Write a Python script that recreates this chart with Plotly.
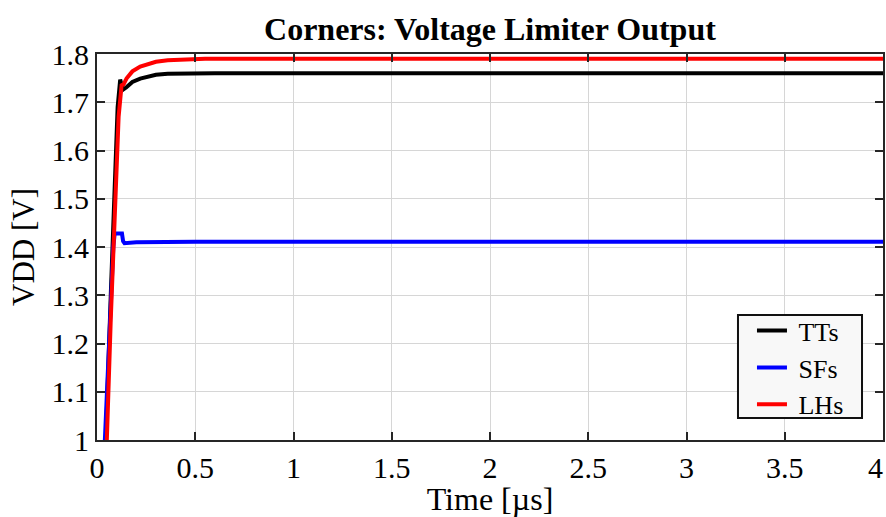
import plotly.graph_objects as go

# Transient response of the voltage limiter output for each process corner
tt_time = [0.0, 0.045, 0.07, 0.09, 0.105, 0.118, 0.124, 0.132, 0.15, 0.18, 0.22, 0.26, 0.30, 0.36, 0.45, 0.6, 1.0, 2.0, 3.0, 4.0]
tt_vdd = [0.0, 1.0, 1.30, 1.53, 1.69, 1.747, 1.735, 1.726, 1.731, 1.742, 1.749, 1.754, 1.757, 1.759, 1.760, 1.760, 1.760, 1.760, 1.760, 1.760]

sf_time = [0.0, 0.04, 0.083, 0.09, 0.127, 0.133, 0.14, 0.2, 0.5, 1.0, 2.0, 3.0, 4.0]
sf_vdd = [0.0, 1.0, 1.40, 1.428, 1.428, 1.412, 1.408, 1.410, 1.411, 1.411, 1.411, 1.411, 1.411]

lh_time = [0.0, 0.05, 0.07, 0.09, 0.11, 0.125, 0.135, 0.15, 0.18, 0.22, 0.26, 0.30, 0.36, 0.45, 0.55, 0.7, 1.0, 2.0, 3.0, 4.0]
lh_vdd = [0.0, 1.0, 1.25, 1.49, 1.67, 1.735, 1.737, 1.749, 1.764, 1.774, 1.780, 1.784, 1.787, 1.789, 1.790, 1.790, 1.790, 1.790, 1.790, 1.790]

x_ticks = [0, 0.5, 1, 1.5, 2, 2.5, 3, 3.5, 4]
# the last label is padded so it stays inside the page at the right edge
x_tick_labels = ["0", "0.5", "1", "1.5", "2", "2.5", "3", "3.5", "4\u00a0\u00a0"]
y_ticks = [1.0, 1.1, 1.2, 1.3, 1.4, 1.5, 1.6, 1.7, 1.8]
y_tick_labels = ["1", "1.1", "1.2", "1.3", "1.4", "1.5", "1.6", "1.7", "1.8"]

SERIF = "Liberation Serif, Times New Roman, serif"
AXIS_COLOR = "#262626"

fig = go.Figure()
fig.add_trace(go.Scatter(x=tt_time, y=tt_vdd, mode="lines", name="\u00a0TTs",
                         line=dict(color="#000000", width=4)))
fig.add_trace(go.Scatter(x=sf_time, y=sf_vdd, mode="lines", name="\u00a0SFs",
                         line=dict(color="#0000ff", width=4)))
fig.add_trace(go.Scatter(x=lh_time, y=lh_vdd, mode="lines", name="\u00a0LHs",
                         line=dict(color="#ff0000", width=4)))

axis_common = dict(
    showline=True, linecolor=AXIS_COLOR, linewidth=2, mirror="ticks",
    ticks="inside", ticklen=8, tickwidth=2, tickcolor=AXIS_COLOR,
    showgrid=True, gridcolor="#d6d6d6", gridwidth=1,
    zeroline=False, automargin=False,
    tickfont=dict(family=SERIF, size=30, color="#000000"),
)

fig.update_xaxes(
    range=[0, 4], tickvals=x_ticks, ticktext=x_tick_labels,
    ticklabeloverflow="allow",
    title=dict(text="Time [µs]", font=dict(family=SERIF, size=32, color="#000000"), standoff=4),
    **axis_common,
)
fig.update_yaxes(
    range=[1.0, 1.8], tickvals=y_ticks, ticktext=y_tick_labels,
    title=dict(text="VDD [V]", font=dict(family=SERIF, size=31, color="#000000"), standoff=8),
    **axis_common,
)

# Framed, lightly shaded panel behind the legend entries
fig.add_shape(type="rect", xref="paper", yref="paper",
              x0=0.8155, x1=0.9733, y0=0.057, y1=0.3238,
              fillcolor="#f8f8f8", line=dict(color="#111111", width=2),
              layer="above")

fig.update_layout(
    width=886, height=517,
    margin=dict(l=97, r=3, t=54, b=77, autoexpand=False),
    paper_bgcolor="white", plot_bgcolor="white",
    title=dict(text="<b>Corners: Voltage Limiter Output</b>", x=0.553, xanchor="center",
               y=0.945, yanchor="middle",
               font=dict(family=SERIF, size=32, color="#000000")),
    legend=dict(x=0.8333, y=0.344, xanchor="left", yanchor="top",
                bgcolor="rgba(0,0,0,0)", borderwidth=0,
                font=dict(family=SERIF, size=26, color="#000000"),
                itemwidth=30, tracegroupgap=0),
    showlegend=True,
)

fig.write_html("out.html")
